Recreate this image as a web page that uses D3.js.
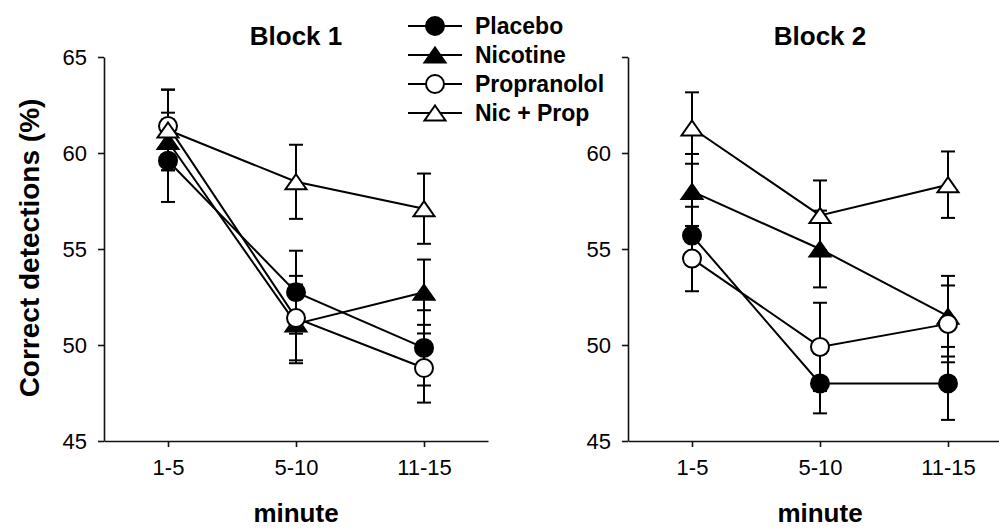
<!DOCTYPE html>
<html>
<head>
<meta charset="utf-8">
<script src="https://cdn.jsdelivr.net/npm/d3@7"></script>
<style>
  body { margin: 0; background: #fff; }
  svg text { font-family: "Liberation Sans", Arial, sans-serif; fill: #000; }
</style>
</head>
<body>
<div id="chart"></div>
<script>
// categories
var minutes = ['1-5', '5-10', '11-15'];
var groups = ['Placebo', 'Nicotine', 'Propranolol', 'Nic + Prop'];
var yTicks = [45, 50, 55, 60, 65];

// Block 1 means and SE
var placeboB1 = [59.6, 52.75, 49.85];
var placeboB1Se = [2.15, 2.16, 1.96];
var nicotineB1 = [60.6, 51.1, 52.75];
var nicotineB1Se = [1.5, 2.05, 1.7];
var propB1 = [61.4, 51.4, 48.8];
var propB1Se = [1.9, 2.2, 1.8];
var nicPropB1 = [61.2, 58.5, 57.1];
var nicPropB1Se = [2.1, 1.93, 1.83];

// Block 2
var placeboB2 = [55.7, 48.0, 48.0];
var placeboB2Se = [1.5, 1.56, 1.9];
var nicotineB2 = [58.0, 55.0, 51.5];
var nicotineB2Se = [1.95, 2.0, 2.1];
var propB2 = [54.5, 49.9, 51.1];
var propB2Se = [1.7, 2.3, 2.0];
var nicPropB2 = [61.3, 56.75, 58.35];
var nicPropB2Se = [1.86, 1.82, 1.73];

var W = 999, H = 530;
var svg = d3.select('#chart').append('svg')
    .attr('width', W).attr('height', H);

var y = d3.scaleLinear().domain([45, 65]).range([441, 57]);

// marker styles per group
var markerStyle = {
    'Placebo':     { shape: 'circle',   fill: '#000' },
    'Nicotine':    { shape: 'triangle', fill: '#000' },
    'Propranolol': { shape: 'circle',   fill: '#fff' },
    'Nic + Prop':  { shape: 'triangle', fill: '#fff' }
};

var drawMarker = function(g, name, cx, cy) {
    var st = markerStyle[name];
    if (st.shape === 'circle') {
        g.append('circle').attr('cx', cx).attr('cy', cy).attr('r', 9)
            .attr('fill', st.fill).attr('stroke', '#000').attr('stroke-width', 2);
    } else {
        g.append('path')
            .attr('d', 'M0,-7.5L10.5,7.5L-10.5,7.5Z')
            .attr('transform', 'translate(' + cx + ',' + cy + ')')
            .attr('fill', st.fill).attr('stroke', '#000').attr('stroke-width', 2);
    }
};

var drawPanel = function(opts) {
    var g = svg.append('g');
    var x = d3.scalePoint().domain(minutes).range(opts.xRange).padding(0.5);
    var series = groups.map(function(name, i) {
        return { name: name, mean: opts.means[i], se: opts.ses[i] };
    });

    // axes
    var yAxis = d3.axisLeft(y).tickValues(yTicks).tickSize(6).tickSizeOuter(0)
        .tickPadding(11)
        .tickFormat(function(d) { return (opts.hideTop && d === 65) ? '' : d; });
    var ya = g.append('g')
        .attr('transform', 'translate(' + opts.xRange[0] + ',0)')
        .call(yAxis);
    var xAxis = d3.axisBottom(x).tickSize(6).tickSizeOuter(0).tickPadding(12);
    var xa = g.append('g')
        .attr('transform', 'translate(0,' + y(45) + ')')
        .call(xAxis);
    [ya, xa].forEach(function(a) {
        a.selectAll('path, line').attr('stroke', '#111').attr('stroke-width', 1.6);
        a.selectAll('text').attr('font-size', '22px')
            .style('font-family', '"Liberation Sans", Arial, sans-serif');
    });

    // error bars
    series.forEach(function(s) {
        s.mean.forEach(function(m, j) {
            var cx = x(minutes[j]);
            var lo = y(m - s.se[j]), hi = y(m + s.se[j]);
            g.append('line').attr('x1', cx).attr('x2', cx).attr('y1', lo).attr('y2', hi)
                .attr('stroke', '#000').attr('stroke-width', 2);
            [lo, hi].forEach(function(yy) {
                g.append('line').attr('x1', cx - 7).attr('x2', cx + 7)
                    .attr('y1', yy).attr('y2', yy)
                    .attr('stroke', '#000').attr('stroke-width', 2);
            });
        });
    });

    // lines
    var line = d3.line()
        .x(function(d, j) { return x(minutes[j]); })
        .y(function(d) { return y(d); });
    series.forEach(function(s) {
        g.append('path').attr('d', line(s.mean))
            .attr('fill', 'none').attr('stroke', '#000').attr('stroke-width', 2);
    });

    // markers
    series.forEach(function(s) {
        s.mean.forEach(function(m, j) {
            drawMarker(g, s.name, x(minutes[j]), y(m));
        });
    });

    var mid = (x(minutes[0]) + x(minutes[2])) / 2;
    g.append('text').attr('x', mid).attr('y', 45)
        .attr('text-anchor', 'middle').attr('font-size', '26px')
        .attr('font-weight', 'bold').text(opts.title);
    g.append('text').attr('x', mid).attr('y', 522)
        .attr('text-anchor', 'middle').attr('font-size', '26px')
        .attr('font-weight', 'bold').text('minute');
};

drawPanel({
    title: 'Block 1',
    xRange: [104, 488],
    means: [placeboB1, nicotineB1, propB1, nicPropB1],
    ses: [placeboB1Se, nicotineB1Se, propB1Se, nicPropB1Se],
    hideTop: false
});
drawPanel({
    title: 'Block 2',
    xRange: [628, 1012],
    means: [placeboB2, nicotineB2, propB2, nicPropB2],
    ses: [placeboB2Se, nicotineB2Se, propB2Se, nicPropB2Se],
    hideTop: true
});

// y axis title
svg.append('text')
    .attr('transform', 'translate(39,248) rotate(-90)')
    .attr('text-anchor', 'middle').attr('font-size', '28px')
    .attr('font-weight', 'bold').text('Correct detections (%)');

// legend
var legend = svg.append('g');
groups.forEach(function(name, i) {
    var ly = 26 + i * 29;
    legend.append('line').attr('x1', 408).attr('x2', 462)
        .attr('y1', ly).attr('y2', ly)
        .attr('stroke', '#000').attr('stroke-width', 2);
    drawMarker(legend, name, 435, ly);
    legend.append('text').attr('x', 475).attr('y', ly + 8)
        .attr('font-size', '23px').attr('font-weight', 'bold').text(name);
});
</script>
</body>
</html>
